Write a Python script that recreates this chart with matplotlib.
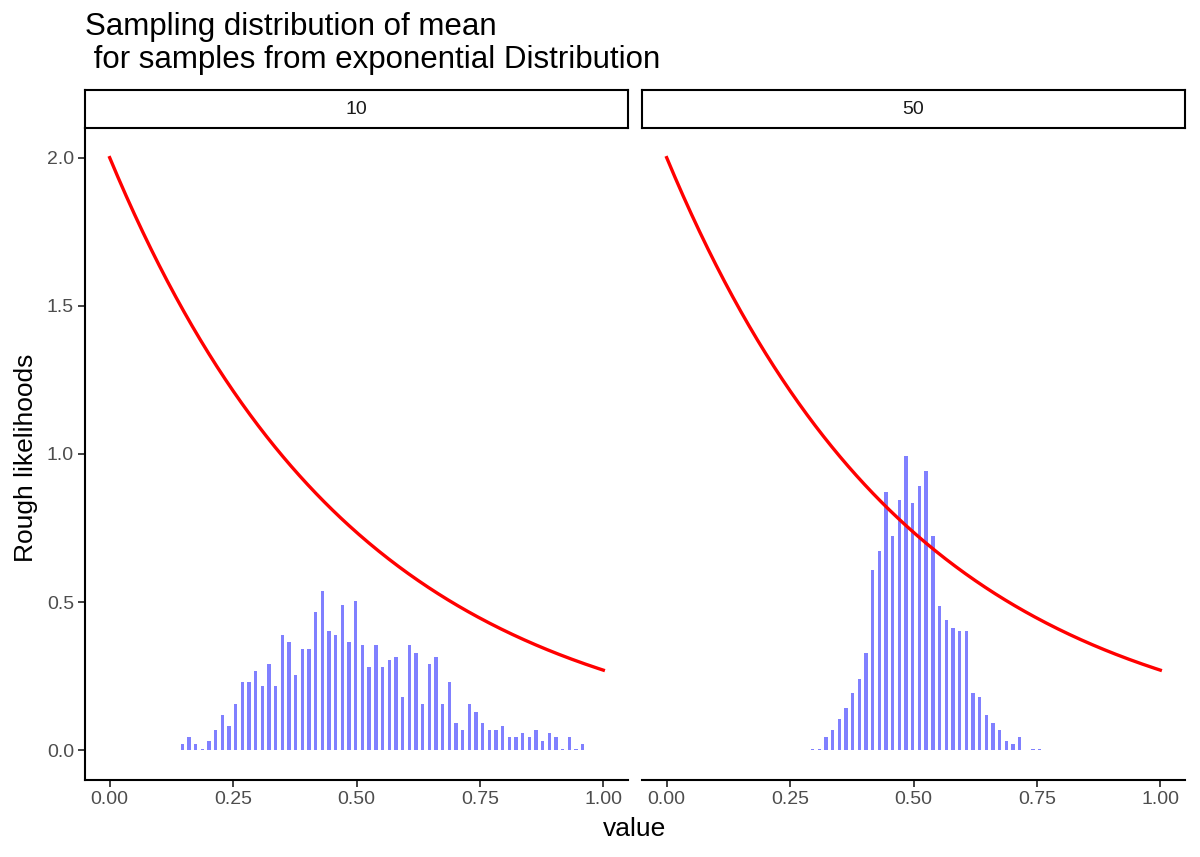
import numpy as np
import matplotlib
matplotlib.use("Agg")
import matplotlib.pyplot as plt

plt.rcParams['font.family'] = ['Liberation Sans', 'DejaVu Sans']

# ---- data ----
title = "Sampling distribution of mean\n for samples from exponential Distribution"
facets = ["10", "50"]
bin_start = 0.1472      # centre of first bin
bin_width = 0.013516
rate = 2.0              # exponential rate of the red density curve

left_first_bin = 0
left_heights = [0.02, 0.044, 0.02, 0.004, 0.033, 0.068, 0.119, 0.082, 0.156, 0.23,
                0.23, 0.267, 0.218, 0.292, 0.218, 0.39, 0.366, 0.255, 0.342, 0.342,
                0.466, 0.539, 0.403, 0.39, 0.49, 0.366, 0.503, 0.354, 0.28, 0.354,
                0.28, 0.304, 0.316, 0.18, 0.354, 0.329, 0.156, 0.292, 0.316, 0.156,
                0.23, 0.094, 0.07, 0.156, 0.131, 0.094, 0.07, 0.07, 0.082, 0.045,
                0.045, 0.057, 0.045, 0.07, 0.033, 0.057, 0.045, 0.004, 0.045, 0.004, 0.02]

right_first_bin = 11
right_heights = [0.004, 0.004, 0.044, 0.068, 0.105, 0.144, 0.192, 0.242, 0.327, 0.61,
                 0.672, 0.871, 0.723, 0.845, 0.994, 0.833, 0.893, 0.944, 0.723, 0.487,
                 0.439, 0.413, 0.402, 0.402, 0.192, 0.18, 0.119, 0.093, 0.068, 0.031,
                 0.02, 0.044, 0.0, 0.004, 0.004]

x_ticks = [0.0, 0.25, 0.5, 0.75, 1.0]
x_ticklabels = ["0.00", "0.25", "0.50", "0.75", "1.00"]
y_ticks = [0.0, 0.5, 1.0, 1.5, 2.0]
y_ticklabels = ["0.0", "0.5", "1.0", "1.5", "2.0"]

# ---- figure ----
W, H = 1200, 857
fig = plt.figure(figsize=(W / 100, H / 100), dpi=100)

def fx(px):
    return px / W

def fy(py):
    return 1 - py / H

panel_lefts = [85, 642]
panel_w = 543
top, bottom = 128, 780
strip_top = 90

xs_curve = np.linspace(0, 1, 300)
ys_curve = rate * np.exp(-rate * xs_curve)

series = [(left_first_bin, left_heights), (right_first_bin, right_heights)]
tick_col = "#4D4D4D"

for i, (pl, (first, heights)) in enumerate(zip(panel_lefts, series)):
    ax = fig.add_axes([fx(pl), fy(bottom), fx(panel_w), (bottom - top) / H])
    centers = bin_start + (first + np.arange(len(heights))) * bin_width
    ax.bar(centers, heights, width=bin_width * 0.5, color=(0.5, 0.5, 1.0),
           edgecolor='none', zorder=2)
    ax.plot(xs_curve, ys_curve, color='red', lw=2.4, zorder=3)
    ax.set_xlim(-0.05, 1.05)
    ax.set_ylim(-0.1, 2.1)
    for s in ['top', 'right']:
        ax.spines[s].set_visible(False)
    ax.spines['bottom'].set_linewidth(1.5)
    ax.spines['left'].set_linewidth(1.5)
    ax.set_xticks(x_ticks)
    ax.set_xticklabels(x_ticklabels)
    ax.tick_params(axis='x', length=5, width=1.3, color='#333333',
                   labelsize=14, labelcolor=tick_col, pad=3)
    if i == 0:
        ax.set_yticks(y_ticks)
        ax.set_yticklabels(y_ticklabels)
        ax.tick_params(axis='y', length=5, width=1.3, color='#333333',
                       labelsize=14, labelcolor=tick_col, pad=3)
    else:
        ax.spines['left'].set_visible(False)
        ax.set_yticks([])
    # strip
    sax = fig.add_axes([fx(pl), fy(top), fx(panel_w), (top - strip_top) / H])
    sax.set_xticks([]); sax.set_yticks([])
    for s in sax.spines.values():
        s.set_linewidth(1.5)
        s.set_color('black')
    sax.text(0.5, 0.5, facets[i], ha='center', va='center', fontsize=14,
             color='#1A1A1A', transform=sax.transAxes)

title_lines = title.split("\n")
for line, base in zip(title_lines, [35, 68]):
    fig.text(fx(85), fy(base), line, ha='left', va='baseline', fontsize=22.5,
             color='black')
fig.text(fx((85 + 1185) / 2), fy(829), "value", ha='center', va='center',
         fontsize=19, color='black')
fig.text(fx(26), fy(458), "Rough likelihoods", ha='center', va='center',
         rotation=90, fontsize=19, color='black')

fig.savefig("out.png", dpi=100, facecolor='white')
